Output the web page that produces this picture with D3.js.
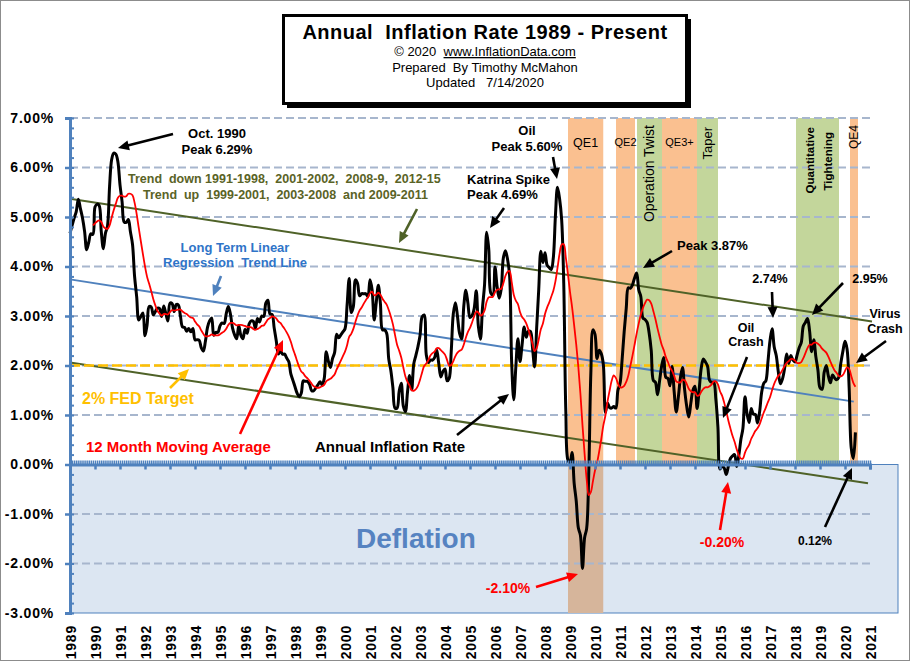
<!DOCTYPE html>
<html>
<head>
<meta charset="utf-8">
<script src="https://cdn.jsdelivr.net/npm/d3@7"></script>
<style>
body { margin: 0; background: #fff; }
svg text { font-family: Arial, "Liberation Sans", sans-serif; }
</style>
</head>
<body>
<div id="chart"></div>
<script>
// monthly annual inflation rate (%), Jan 1989 - Jun 2020
var firstYear = 1989;
var inflation = [
  4.67, 4.83, 4.98, 5.11, 5.36, 5.17, 4.98, 4.71, 4.34, 4.49, 4.66, 4.65,
  5.20, 5.26, 5.23, 4.71, 4.36, 4.67, 4.82, 5.62, 6.16, 6.29, 6.27, 6.11,
  5.65, 5.31, 4.90, 4.89, 4.95, 4.70, 4.45, 3.80, 3.39, 2.92, 2.99, 3.06,
  2.60, 2.82, 3.19, 3.18, 3.02, 3.09, 3.16, 3.15, 2.99, 3.20, 3.05, 2.90,
  3.26, 3.25, 3.09, 3.23, 3.22, 3.00, 2.78, 2.77, 2.69, 2.75, 2.68, 2.75,
  2.52, 2.52, 2.51, 2.36, 2.29, 2.49, 2.77, 2.90, 2.96, 2.61, 2.67, 2.67,
  2.80, 2.86, 2.85, 3.05, 3.19, 3.04, 2.76, 2.62, 2.54, 2.81, 2.61, 2.54,
  2.73, 2.65, 2.84, 2.90, 2.89, 2.75, 2.95, 2.88, 3.00, 2.99, 3.26, 3.32,
  3.04, 3.03, 2.76, 2.50, 2.23, 2.30, 2.23, 2.23, 2.15, 2.08, 1.83, 1.70,
  1.57, 1.44, 1.37, 1.44, 1.69, 1.68, 1.68, 1.62, 1.49, 1.49, 1.55, 1.61,
  1.67, 1.61, 1.73, 2.28, 2.09, 1.96, 2.14, 2.26, 2.63, 2.56, 2.62, 2.68,
  2.74, 3.22, 3.76, 3.07, 3.19, 3.73, 3.66, 3.41, 3.45, 3.45, 3.45, 3.39,
  3.73, 3.53, 2.92, 3.27, 3.62, 3.25, 2.72, 2.72, 2.65, 2.13, 1.90, 1.55,
  1.14, 1.14, 1.48, 1.64, 1.18, 1.07, 1.46, 1.80, 1.51, 2.03, 2.20, 2.38,
  2.60, 2.98, 3.02, 2.22, 2.06, 2.11, 2.11, 2.16, 2.32, 2.04, 1.77, 1.88,
  1.93, 1.69, 1.74, 2.29, 3.05, 3.27, 2.99, 2.65, 2.54, 3.19, 3.52, 3.26,
  2.97, 3.01, 3.15, 3.51, 2.80, 2.53, 3.17, 3.64, 4.69, 4.35, 3.46, 3.42,
  3.99, 3.60, 3.36, 3.55, 4.17, 4.32, 4.15, 3.82, 2.06, 1.31, 1.97, 2.54,
  2.08, 2.42, 2.78, 2.57, 2.69, 2.69, 2.36, 1.97, 2.76, 3.54, 4.31, 4.08,
  4.28, 4.03, 3.98, 3.94, 4.18, 5.02, 5.60, 5.37, 4.94, 3.66, 1.07, 0.09,
  0.03, 0.24, -0.38, -0.74, -1.28, -1.43, -2.10, -1.48, -1.29, -0.18, 1.84, 2.72,
  2.63, 2.14, 2.31, 2.24, 2.02, 1.05, 1.24, 1.15, 1.14, 1.17, 1.14, 1.50,
  1.63, 2.11, 2.68, 3.16, 3.57, 3.56, 3.63, 3.77, 3.87, 3.53, 3.39, 2.96,
  2.93, 2.87, 2.65, 2.30, 1.70, 1.66, 1.41, 1.69, 1.99, 2.16, 1.76, 1.74,
  1.59, 1.98, 1.47, 1.06, 1.36, 1.75, 1.96, 1.52, 1.18, 0.96, 1.24, 1.50,
  1.58, 1.13, 1.51, 1.95, 2.13, 2.07, 1.99, 1.70, 1.66, 1.66, 1.32, 0.76,
  -0.09, -0.03, -0.07, -0.20, -0.04, 0.12, 0.17, 0.20, -0.04, 0.17, 0.50, 0.73,
  1.37, 1.02, 0.85, 1.13, 1.02, 1.01, 0.84, 1.06, 1.46, 1.64, 1.69, 2.07,
  2.50, 2.74, 2.38, 2.20, 1.87, 1.63, 1.73, 1.94, 2.23, 2.04, 2.20, 2.11,
  2.07, 2.21, 2.36, 2.46, 2.80, 2.87, 2.95, 2.70, 2.28, 2.52, 2.18, 1.91,
  1.55, 1.52, 1.86, 2.00, 1.79, 1.65, 1.81, 1.75, 1.71, 1.76, 2.05, 2.29,
  2.49, 2.33, 1.54, 0.33, 0.12, 0.65
];

// 12 month moving average (%), Dec 1989 - Jun 2020
var maFirstMonth = 11;
var movingAvg = [
  4.83,
  4.87, 4.91, 4.93, 4.90, 4.81, 4.77, 4.76, 4.83, 4.99, 5.14, 5.27, 5.39,
  5.43, 5.43, 5.41, 5.42, 5.47, 5.47, 5.44, 5.29, 5.06, 4.78, 4.51, 4.25,
  4.00, 3.79, 3.65, 3.50, 3.34, 3.21, 3.10, 3.05, 3.01, 3.04, 3.04, 3.03,
  3.08, 3.12, 3.11, 3.12, 3.13, 3.13, 3.09, 3.06, 3.04, 3.00, 2.97, 2.96,
  2.89, 2.83, 2.79, 2.71, 2.64, 2.59, 2.59, 2.60, 2.63, 2.61, 2.61, 2.61,
  2.63, 2.66, 2.69, 2.74, 2.82, 2.86, 2.86, 2.84, 2.81, 2.82, 2.82, 2.81,
  2.80, 2.78, 2.78, 2.77, 2.74, 2.72, 2.74, 2.76, 2.80, 2.81, 2.87, 2.93,
  2.96, 2.99, 2.98, 2.95, 2.89, 2.86, 2.80, 2.74, 2.67, 2.59, 2.48, 2.34,
  2.22, 2.09, 1.97, 1.88, 1.84, 1.78, 1.74, 1.69, 1.63, 1.58, 1.56, 1.55,
  1.56, 1.58, 1.61, 1.68, 1.71, 1.73, 1.77, 1.82, 1.92, 2.01, 2.10, 2.19,
  2.28, 2.41, 2.58, 2.64, 2.74, 2.88, 3.01, 3.11, 3.17, 3.25, 3.32, 3.38,
  3.46, 3.49, 3.42, 3.43, 3.47, 3.43, 3.35, 3.29, 3.23, 3.12, 2.99, 2.83,
  2.62, 2.42, 2.30, 2.16, 1.96, 1.78, 1.67, 1.60, 1.50, 1.49, 1.52, 1.59,
  1.71, 1.86, 1.99, 2.04, 2.11, 2.20, 2.25, 2.28, 2.35, 2.35, 2.31, 2.27,
  2.22, 2.11, 2.00, 2.01, 2.09, 2.19, 2.26, 2.30, 2.32, 2.42, 2.56, 2.68,
  2.76, 2.87, 2.99, 3.09, 3.07, 3.01, 3.03, 3.11, 3.29, 3.38, 3.38, 3.39,
  3.48, 3.53, 3.54, 3.55, 3.66, 3.81, 3.89, 3.91, 3.69, 3.43, 3.31, 3.24,
  3.08, 2.98, 2.93, 2.85, 2.73, 2.59, 2.44, 2.29, 2.35, 2.53, 2.73, 2.85,
  3.04, 3.17, 3.27, 3.39, 3.51, 3.70, 3.97, 4.26, 4.44, 4.45, 4.18, 3.85,
  3.49, 3.18, 2.81, 2.42, 1.97, 1.43, 0.79, 0.22, -0.30, -0.62, -0.56, -0.34,
  -0.12, 0.04, 0.26, 0.51, 0.79, 0.99, 1.27, 1.49, 1.69, 1.80, 1.75, 1.64,
  1.56, 1.56, 1.59, 1.67, 1.80, 2.00, 2.20, 2.42, 2.65, 2.85, 3.03, 3.16,
  3.26, 3.33, 3.32, 3.25, 3.10, 2.94, 2.75, 2.58, 2.42, 2.31, 2.17, 2.07,
  1.96, 1.89, 1.79, 1.68, 1.66, 1.66, 1.71, 1.70, 1.63, 1.53, 1.48, 1.46,
  1.46, 1.39, 1.40, 1.47, 1.53, 1.56, 1.56, 1.58, 1.62, 1.68, 1.68, 1.62,
  1.48, 1.39, 1.25, 1.08, 0.89, 0.73, 0.58, 0.46, 0.31, 0.19, 0.12, 0.12,
  0.24, 0.33, 0.40, 0.52, 0.60, 0.68, 0.73, 0.81, 0.93, 1.05, 1.15, 1.26,
  1.36, 1.50, 1.63, 1.72, 1.79, 1.84, 1.91, 1.99, 2.05, 2.09, 2.13, 2.13,
  2.10, 2.05, 2.05, 2.07, 2.15, 2.25, 2.35, 2.42, 2.42, 2.46, 2.46, 2.44,
  2.40, 2.34, 2.30, 2.26, 2.18, 2.08, 1.98, 1.90, 1.85, 1.79, 1.78, 1.81,
  1.89, 1.96, 1.93, 1.79, 1.65, 1.57
];

var yTicks = [-3, -2, -1, 0, 1, 2, 3, 4, 5, 6, 7];
var yearTicks = [1989, 1990, 1991, 1992, 1993, 1994, 1995, 1996, 1997, 1998, 1999,
  2000, 2001, 2002, 2003, 2004, 2005, 2006, 2007, 2008, 2009, 2010,
  2011, 2012, 2013, 2014, 2015, 2016, 2017, 2018, 2019, 2020, 2021];

// policy periods (decimal years)
var bandNames = ["QE1", "QE2", "Operation Twist", "QE3+", "Taper", "Quantitative Tightening", "QE4"];
var bandStart = [2008.92, 2010.84, 2011.68, 2012.68, 2014.08, 2018.04, 2020.20];
var bandEnd   = [2010.33, 2011.60, 2012.68, 2014.08, 2014.92, 2019.76, 2020.52];
var bandKind  = ["qe", "qe", "tight", "qe", "tight", "tight", "qe"];

// straight reference lines [year, %]
var upperTrend = [[1989, 5.37], [2021.08, 2.89]];
var lowerTrend = [[1989, 2.06], [2020.92, -0.38]];
var regression = [[1989, 3.74], [2020.35, 1.27]];
var fedTarget  = [[1989, 2.0], [2020.92, 2.0]];

var width = 910, height = 661;
var axisBlue = "#4F81BD", olive = "#4F6228";

var svg = d3.select("#chart").append("svg")
    .attr("width", width)
    .attr("height", height);

svg.append("rect")
    .attr("x", 0.5).attr("y", 0.5)
    .attr("width", width - 1).attr("height", height - 1)
    .attr("fill", "#fff").attr("stroke", "#8c8c8c");

var x = d3.scaleLinear().domain([1989, 2021]).range([70, 870]);
var y = d3.scaleLinear().domain([-3, 7]).range([613, 118]);

function monthX(i) { return x(firstYear + i / 12); }

// policy bands
bandNames.forEach(function(name, i) {
  svg.append("rect")
      .attr("x", x(bandStart[i]))
      .attr("y", y(7))
      .attr("width", x(bandEnd[i]) - x(bandStart[i]))
      .attr("height", y(0) - y(7))
      .attr("fill", bandKind[i] == "qe" ? "#FAC090" : "#C3D69B");
});

// deflation area
svg.append("rect")
    .attr("x", x(1989)).attr("y", y(0))
    .attr("width", 898 - x(1989)).attr("height", y(-3) - y(0))
    .attr("fill", "#DCE6F2").attr("stroke", axisBlue).attr("stroke-width", 1);

// QE1 continues down through the deflation area
svg.append("rect")
    .attr("x", x(bandStart[0])).attr("y", y(0))
    .attr("width", x(bandEnd[0]) - x(bandStart[0]))
    .attr("height", y(-3) - y(0))
    .attr("fill", "#D6B59B");

// grid
svg.append("g").selectAll("line")
    .data(yTicks.filter(function(d) { return d != 0 && d != -3; }))
    .enter().append("line")
    .attr("x1", x(1989)).attr("x2", 872)
    .attr("y1", function(d) { return y(d); })
    .attr("y2", function(d) { return y(d); })
    .attr("stroke", "#A7B6CD").attr("stroke-width", 2)
    .attr("stroke-dasharray", "8,4");

svg.append("text")
    .attr("x", 356).attr("y", 548)
    .attr("fill", "#5683C1")
    .style("font-size", "28px").style("font-weight", "bold")
    .text("Deflation");

// reference lines
var straight = d3.line()
    .x(function(d) { return x(d[0]); })
    .y(function(d) { return y(d[1]); });

svg.append("path").datum(upperTrend).attr("d", straight)
    .attr("stroke", olive).attr("stroke-width", 2).attr("fill", "none");
svg.append("path").datum(lowerTrend).attr("d", straight)
    .attr("stroke", olive).attr("stroke-width", 2).attr("fill", "none");
svg.append("path").datum(regression).attr("d", straight)
    .attr("stroke", axisBlue).attr("stroke-width", 2).attr("fill", "none");
svg.append("path").datum(fedTarget).attr("d", straight)
    .attr("stroke", "#FFC000").attr("stroke-width", 2.5)
    .attr("stroke-dasharray", "10,4").attr("fill", "none");

// data lines
var inflLine = d3.line()
    .x(function(d, i) { return monthX(i); })
    .y(function(d) { return y(d); })
    .curve(d3.curveCatmullRom.alpha(0.5));

svg.append("path").datum(inflation).attr("d", inflLine)
    .attr("stroke", "#000").attr("stroke-width", 3)
    .attr("stroke-linejoin", "round").attr("fill", "none");

var maLine = d3.line()
    .x(function(d, i) { return monthX(i + maFirstMonth); })
    .y(function(d) { return y(d); })
    .curve(d3.curveCatmullRom.alpha(0.5));

svg.append("path").datum(movingAvg).attr("d", maLine)
    .attr("stroke", "#FF0000").attr("stroke-width", 1.8).attr("fill", "none");

// Y axis
var yAxis = svg.append("g")
    .attr("transform", "translate(" + x(1989) + ",0)")
    .call(d3.axisLeft(y).tickValues(yTicks).tickSize(5).tickPadding(11)
        .tickFormat(function(d) { return d.toFixed(2) + "%"; }));
yAxis.select(".domain").attr("stroke", axisBlue).attr("stroke-width", 3);
yAxis.selectAll(".tick line").attr("stroke", axisBlue).attr("stroke-width", 2.5);
yAxis.selectAll(".tick text")
    .style("font-size", "14px").style("font-weight", "bold")
    .style("letter-spacing", "0.8px").attr("fill", "#000");

var yMinor = svg.append("g")
    .attr("transform", "translate(" + x(1989) + ",0)")
    .call(d3.axisLeft(y).ticks(50).tickSize(-4).tickFormat(""));
yMinor.select(".domain").remove();
yMinor.selectAll(".tick line").attr("stroke", axisBlue).attr("stroke-width", 2);

// X axis on the zero line
var monthTicks = d3.range(0, 32 * 12 + 1).map(function(i) { return firstYear + i / 12; });
var xMinor = svg.append("g")
    .attr("transform", "translate(0," + y(0) + ")")
    .call(d3.axisBottom(x).tickValues(monthTicks).tickSize(-4).tickFormat(""));
xMinor.select(".domain").remove();
xMinor.selectAll(".tick line").attr("stroke", axisBlue).attr("stroke-width", 1.5);

var xAxis = svg.append("g")
    .attr("transform", "translate(0," + y(0) + ")")
    .call(d3.axisBottom(x).tickValues(yearTicks).tickSize(5).tickFormat(""));
xAxis.select(".domain").attr("stroke", axisBlue).attr("stroke-width", 3);
xAxis.selectAll(".tick line").attr("stroke", axisBlue).attr("stroke-width", 2.5);

// year labels under the plot
var xLabels = svg.append("g")
    .attr("transform", "translate(0," + y(-3) + ")")
    .call(d3.axisBottom(x).tickValues(yearTicks).tickSize(0).tickFormat(d3.format("d")));
xLabels.select(".domain").remove();
xLabels.selectAll(".tick text")
    .attr("transform", "rotate(-90)")
    .attr("x", -12).attr("y", 0).attr("dy", "0.36em")
    .style("text-anchor", "end")
    .style("font-size", "14px").style("font-weight", "bold")
    .style("letter-spacing", "0.8px").attr("fill", "#000");

// band labels
function label(txt, px, py, size, weight, rotate, anchor) {
  var t = svg.append("text")
      .style("font-size", size + "px")
      .style("font-weight", weight)
      .attr("fill", "#000")
      .text(txt);
  if (rotate) {
    t.attr("transform", "translate(" + px + "," + py + ") rotate(-90)")
     .attr("dy", "0.35em").style("text-anchor", "end");
  } else {
    t.attr("x", px).attr("y", py).style("text-anchor", anchor || "middle");
  }
  return t;
}
var qe1Mid = (x(bandStart[0]) + x(bandEnd[0])) / 2;
label(bandNames[0], qe1Mid, 147, 12.5, "normal", false);
label(bandNames[1], (x(bandStart[1]) + x(bandEnd[1])) / 2, 146, 11, "normal", false);
label(bandNames[2], (x(bandStart[2]) + x(bandEnd[2])) / 2, 125, 14, "normal", true);
label(bandNames[3], (x(bandStart[3]) + x(bandEnd[3])) / 2, 146, 11, "normal", false);
label(bandNames[4], (x(bandStart[4]) + x(bandEnd[4])) / 2, 127, 13, "normal", true);
label("Quantitative", 810, 127, 11.5, "bold", true);
label("Tightening", 828, 132, 11.5, "bold", true);
label(bandNames[6], (x(bandStart[6]) + x(bandEnd[6])) / 2, 125, 12, "normal", true);

// arrows
function arrow(x1, y1, x2, y2, color) {
  var dx = x2 - x1, dy = y2 - y1, len = Math.sqrt(dx * dx + dy * dy);
  var ux = dx / len, uy = dy / len, head = 11, half = 5;
  var bx = x2 - ux * head, by = y2 - uy * head;
  svg.append("line")
      .attr("x1", x1).attr("y1", y1)
      .attr("x2", bx + ux * 2).attr("y2", by + uy * 2)
      .attr("stroke", color).attr("stroke-width", 2.6);
  svg.append("path")
      .attr("d", "M" + x2 + "," + y2 +
        "L" + (bx - uy * half) + "," + (by + ux * half) +
        "L" + (bx + uy * half) + "," + (by - ux * half) + "Z")
      .attr("fill", color);
}

arrow(173, 134, 118, 148, "#000");
arrow(417, 209, 399, 243, olive);
arrow(221, 276, 213, 296, axisBlue);
arrow(170, 388, 189, 369, "#FFC000");
arrow(240, 434, 283, 340, "#FF0000");
arrow(457, 435, 509, 394, "#000");
arrow(504, 208, 490, 228, "#000");
arrow(553, 157, 557, 179, "#000");
arrow(672, 251, 643, 268, "#000");
arrow(772, 292, 773, 318, "#000");
arrow(843, 283, 812, 315, "#000");
arrow(747, 357, 723, 418, "#000");
arrow(886, 341, 856, 363, "#000");
arrow(536, 587, 578, 574, "#FF0000");
arrow(720, 530, 728, 482, "#FF0000");
arrow(825, 527, 852, 468, "#000");

// annotation texts
function note(txt, px, py, color, size, anchor, weight) {
  return svg.append("text")
      .attr("x", px).attr("y", py)
      .attr("fill", color)
      .style("font-size", size + "px")
      .style("font-weight", weight || "bold")
      .style("text-anchor", anchor)
      .style("white-space", "pre")
      .text(txt);
}

note("Oct. 1990", 217, 138, "#000", 13, "middle");
note("Peak 6.29%", 217, 154, "#000", 13, "middle");
note("Trend  down 1991-1998,  2001-2002,  2008-9,  2012-15", 128, 183, "#5A6326", 12.5, "start");
note("Trend  up  1999-2001,  2003-2008  and 2009-2011", 143, 199, "#5A6326", 12.5, "start");
note("Long Term Linear", 235, 252, "#2F74C8", 13, "middle");
note("Regression  Trend Line", 235, 267, "#2F74C8", 13, "middle");
note("2% FED Target", 82, 404, "#FFC000", 16, "start");
note("12 Month Moving Average", 86, 452, "#FF0000", 15, "start");
note("Annual Inflation Rate", 315, 452, "#000", 15, "start");
note("Katrina Spike", 467, 184, "#000", 13, "start");
note("Peak 4.69%", 467, 199, "#000", 13, "start");
note("Oil", 527, 135, "#000", 13, "middle");
note("Peak 5.60%", 527, 151, "#000", 13, "middle");
note("Peak 3.87%", 677, 250, "#000", 13, "start");
note("2.74%", 770, 283, "#000", 12.5, "middle");
note("2.95%", 870, 283, "#000", 12.5, "middle");
note("Oil", 746, 332, "#000", 12.5, "middle");
note("Crash", 746, 346, "#000", 12.5, "middle");
note("Virus", 885, 318, "#000", 12.5, "middle");
note("Crash", 885, 333, "#000", 12.5, "middle");
note("-2.10%", 508, 593, "#FF0000", 14, "middle");
note("-0.20%", 722, 547, "#FF0000", 14, "middle");
note("0.12%", 815, 545, "#000", 12, "middle");

// title box
svg.append("rect")
    .attr("x", 287).attr("y", 19).attr("width", 404).attr("height", 89)
    .attr("fill", "#000");
svg.append("rect")
    .attr("x", 283.5).attr("y", 15.5).attr("width", 403).attr("height", 88)
    .attr("fill", "#fff").attr("stroke", "#000").attr("stroke-width", 3);

svg.append("text")
    .attr("x", 485).attr("y", 39)
    .style("text-anchor", "middle").style("font-size", "20px")
    .style("font-weight", "bold").style("letter-spacing", "0.5px")
    .style("white-space", "pre")
    .text("Annual  Inflation Rate 1989 - Present");

var sub = svg.append("text")
    .attr("x", 485).attr("y", 56)
    .style("text-anchor", "middle").style("font-size", "13px")
    .style("white-space", "pre");
sub.append("tspan").text("\u00A9 2020  ");
sub.append("tspan").style("text-decoration", "underline").text("www.InflationData.com");

svg.append("text")
    .attr("x", 485).attr("y", 72)
    .style("text-anchor", "middle").style("font-size", "13px")
    .style("white-space", "pre")
    .text("Prepared  By Timothy McMahon");

svg.append("text")
    .attr("x", 485).attr("y", 87)
    .style("text-anchor", "middle").style("font-size", "13px")
    .style("white-space", "pre")
    .text("Updated   7/14/2020");
</script>
</body>
</html>
